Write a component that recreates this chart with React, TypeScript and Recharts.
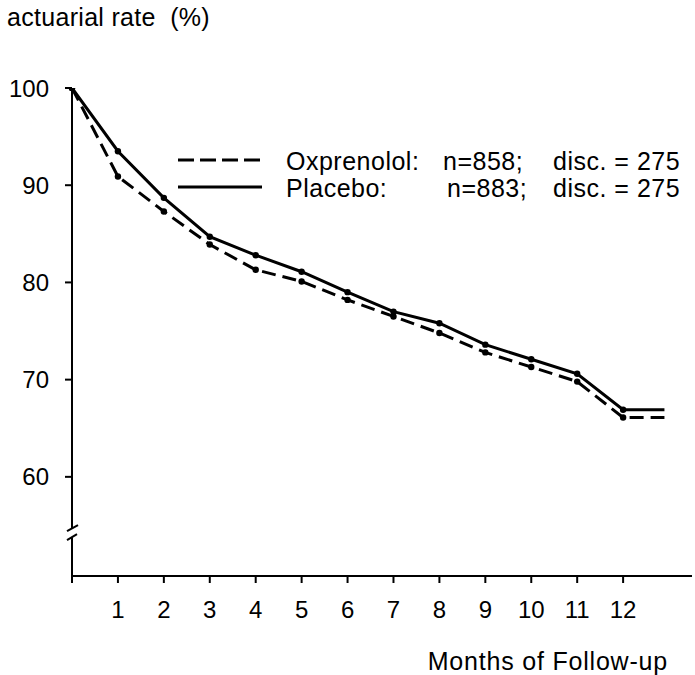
import React from "react";
import { LineChart, Line, XAxis, YAxis, ReferenceDot } from "recharts";

// months of follow-up (last point = end of the flat tail after month 12)
const MONTHS = [0, 1, 2, 3, 4, 5, 6, 7, 8, 9, 10, 11, 12, 12.9];
const PLACEBO = [100, 93.5, 88.7, 84.7, 82.8, 81.1, 79.0, 77.0, 75.8, 73.6, 72.1, 70.6, 66.9, 66.9];
const OXPRENOLOL = [100, 90.9, 87.3, 83.9, 81.3, 80.1, 78.2, 76.5, 74.8, 72.8, 71.3, 69.8, 66.1, 66.1];
const X_TICKS = [0, 1, 2, 3, 4, 5, 6, 7, 8, 9, 10, 11, 12];
const Y_TICKS = [60, 70, 80, 90, 100];
const AXIS_BREAK = 54.2;

const FONT = "'Liberation Sans', Arial, Helvetica, sans-serif";

const data = MONTHS.map((m, i) => ({ month: m, placebo: PLACEBO[i], oxprenolol: OXPRENOLOL[i] }));

// dots only on whole months, not on the tail end
const renderDot = (props: any) => {
  const { cx, cy, payload, index } = props;
  if (payload.month > 12) return <g key={`d${index}`} />;
  return <circle key={`d${index}`} cx={cx} cy={cy} r={3.2} fill="#000" />;
};

const AxisBreak = (props: any) => {
  const { cx, cy } = props;
  return (
    <g>
      <rect x={cx - 4} y={cy - 5} width={8} height={9} fill="#fff" />
      <line x1={cx - 5} y1={cy - 2} x2={cx + 6} y2={cy - 8} stroke="#000" strokeWidth={2} />
      <line x1={cx - 5} y1={cy + 7} x2={cx + 5} y2={cy + 1} stroke="#000" strokeWidth={2} />
    </g>
  );
};

const LegendBox = () => (
  <svg width={525} height={64} style={{ fontFamily: FONT, display: "block" }}>
    <line x1={8} y1={20} x2={92} y2={20} stroke="#000" strokeWidth={3} strokeDasharray="16 6" />
    <line x1={8} y1={47} x2={92} y2={47} stroke="#000" strokeWidth={3} />
    <g fontSize={25} fill="#000" letterSpacing={0.5}>
      <text x={116} y={30}>Oxprenolol:</text>
      <text x={273} y={30}>n=858;</text>
      <text x={383} y={30}>disc. = 275</text>
      <text x={116} y={57}>Placebo:</text>
      <text x={277} y={57}>n=883;</text>
      <text x={383} y={57}>disc. = 275</text>
    </g>
  </svg>
);

const XTitle = (props: any) => {
  const { viewBox } = props;
  return (
    <text
      x={viewBox.x + viewBox.width - 24}
      y={viewBox.y + viewBox.height - 5}
      textAnchor="end"
      fontSize={25}
      letterSpacing={0.8}
      fontFamily={FONT}
      fill="#000"
    >
      Months of Follow-up
    </text>
  );
};

export default function App() {
  const tickStyle = { fontSize: 24, fill: "#000", fontFamily: FONT };
  return (
    <div style={{ position: "absolute", left: 0, top: 0, width: 695, height: 675, background: "#fff" }}>
      <div
        style={{
          position: "absolute",
          left: 7,
          top: 3,
          fontFamily: FONT,
          fontSize: 25,
          letterSpacing: 0.3,
          whiteSpace: "pre",
          zIndex: 2,
        }}
      >
        {"actuarial rate  (%)"}
      </div>
      <div style={{ position: "absolute", left: 170, top: 140, zIndex: 2 }}>
        <LegendBox />
      </div>
      <LineChart width={695} height={675} data={data} margin={{ top: 88, right: 3, left: 0, bottom: 0 }}>
        <XAxis
          dataKey="month"
          type="number"
          domain={[0, 13.5]}
          ticks={X_TICKS}
          tickFormatter={(v: number) => (v === 0 ? "" : String(v))}
          tick={tickStyle}
          tickSize={7}
          tickMargin={18}
          height={99}
          axisLine={{ stroke: "#000", strokeWidth: 2 }}
          tickLine={{ stroke: "#000", strokeWidth: 2 }}
          interval={0}
          label={<XTitle />}
        />
        <YAxis
          type="number"
          domain={[49.8, 100]}
          ticks={Y_TICKS}
          tick={tickStyle}
          tickSize={7}
          tickMargin={16}
          width={72}
          axisLine={{ stroke: "#000", strokeWidth: 2 }}
          tickLine={{ stroke: "#000", strokeWidth: 2 }}
          interval={0}
          allowDataOverflow
        />
        <Line
          dataKey="oxprenolol"
          stroke="#000"
          strokeWidth={3}
          strokeDasharray="14 7"
          dot={renderDot}
          activeDot={false}
          isAnimationActive={false}
        />
        <Line
          dataKey="placebo"
          stroke="#000"
          strokeWidth={3}
          dot={renderDot}
          activeDot={false}
          isAnimationActive={false}
        />
        <ReferenceDot x={0} y={AXIS_BREAK} r={0} shape={<AxisBreak />} ifOverflow="visible" />
      </LineChart>
    </div>
  );
}
